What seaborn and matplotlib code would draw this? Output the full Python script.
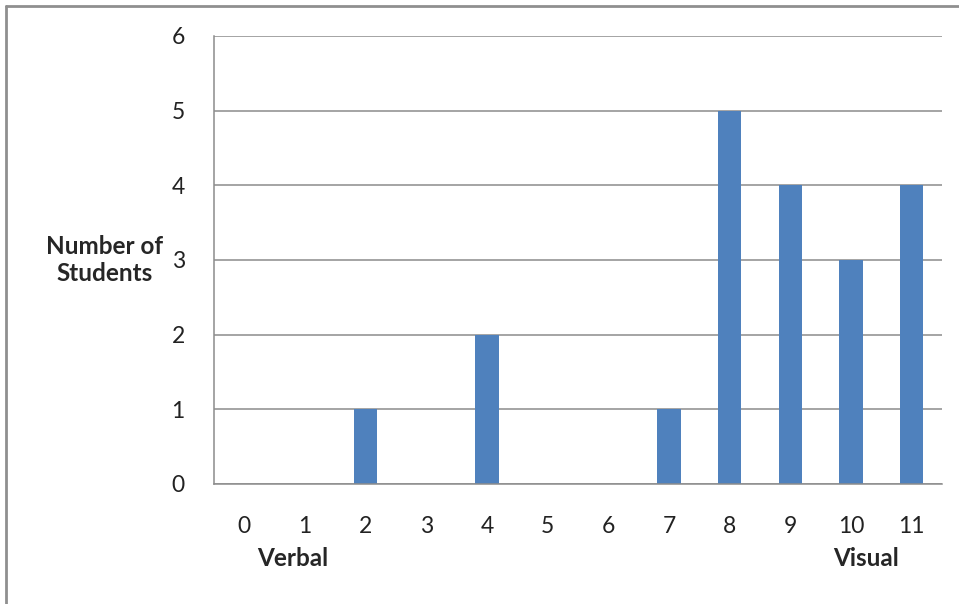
import matplotlib
matplotlib.use("Agg")
import matplotlib.pyplot as plt
from matplotlib.lines import Line2D
from matplotlib.ticker import FixedLocator
import pandas as pd
import seaborn as sns

scores = ["0", "1", "2", "3", "4", "5", "6", "7", "8", "9", "10", "11"]
students = [0, 0, 1, 0, 2, 0, 0, 1, 5, 4, 3, 4]
y_ticks = [0, 1, 2, 3, 4, 5, 6]

df = pd.DataFrame({"Score": scores, "Students": students})

sns.set_style("white")
plt.rcParams["font.family"] = ["Lato", "DejaVu Sans"]

fig = plt.figure(figsize=(9.59, 6.04), dpi=100)
ax = fig.add_axes([214 / 959, 1 - 484 / 604, (942 - 214) / 959, (484 - 36) / 604])

sns.barplot(data=df, x="Score", y="Students", color="#4F81BD", saturation=1,
            width=0.38, linewidth=0, ax=ax)

grid_c = "#8C8C8C"
ax.set_ylim(0, 6)
ax.set_xlim(-0.5, 11.5)
ax.set_yticks(y_ticks)
ax.yaxis.grid(True, color=grid_c, linewidth=1.1)
ax.set_axisbelow(True)
for s in ["top", "right"]:
    ax.spines[s].set_visible(False)
for s in ["left", "bottom"]:
    ax.spines[s].set_color(grid_c)
    ax.spines[s].set_linewidth(1.1)

ax.tick_params(axis="y", direction="out", length=7, width=1.1, color=grid_c,
               pad=14, labelsize=16.5, labelcolor="#222222")
ax.tick_params(axis="x", which="major", length=0, pad=23, labelsize=16.5,
               labelcolor="#222222")
ax.xaxis.set_minor_locator(FixedLocator([i - 0.5 for i in range(13)]))
ax.tick_params(axis="x", which="minor", direction="out", length=6, width=1.1,
               color=grid_c)
ax.set_xlabel("")
ax.set_ylabel("")

fig.text(105 / 959, 1 - 260 / 604, "Number of\nStudents", ha="center",
         va="center", fontsize=17.5, fontweight="bold", linespacing=1.25)
fig.text(293 / 959, 1 - 558 / 604, "Verbal", ha="center", va="center",
         fontsize=17.5, fontweight="bold")
fig.text(866 / 959, 1 - 558 / 604, "Visual", ha="center", va="center",
         fontsize=17.5, fontweight="bold")

# frame edges (top and left are visible in the reference)
border_c = "#8F8F8F"
fig.add_artist(Line2D([6 / 959, 1], [1 - 6 / 604, 1 - 6 / 604],
                      color=border_c, linewidth=2, transform=fig.transFigure))
fig.add_artist(Line2D([6 / 959, 6 / 959], [0, 1 - 6 / 604],
                      color=border_c, linewidth=2, transform=fig.transFigure))

fig.savefig("out.png", dpi=100, facecolor="white")
